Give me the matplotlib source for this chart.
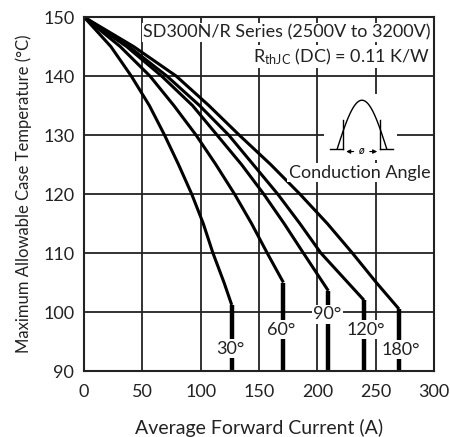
import numpy as np
import matplotlib
matplotlib.use('Agg')
import matplotlib.pyplot as plt
from matplotlib.patches import Rectangle

plt.rcParams['font.family'] = ['Lato', 'DejaVu Sans']
plt.rcParams['mathtext.default'] = 'regular'

## ---------------------------- DATOS LEIDOS ---------------------------- ##
angulos = ['30°', '60°', '90°', '120°', '180°']

# temperatura de caja (°C) para cada punto de la curva
T_30 = [150, 145, 140, 135, 130, 125, 120, 115, 110, 105, 101.2]
I_30 = [0, 23.0, 40.5, 56.0, 69.0, 81.0, 92.3, 102.2, 110.5, 120.0, 126.6]

T_60 = [150, 145, 140, 135, 130, 125, 120, 115, 110, 105]
I_60 = [0, 31.0, 56.5, 77.0, 96.0, 113.0, 129.0, 143.6, 157.0, 170.9]

T_90 = [150, 145, 140, 135, 130, 125, 120, 115, 110, 103.6]
I_90 = [0, 36.5, 66.5, 93.0, 114.0, 135.0, 154.0, 171.5, 188.0, 209.4]

T_120 = [150, 145, 140, 135, 130, 125, 120, 115, 110, 102]
I_120 = [0, 38.5, 71.0, 99.0, 124.0, 145.0, 166.0, 185.0, 203.0, 240.0]

T_180 = [150, 145, 140, 135, 130, 125, 120, 115, 110, 105, 100.5]
I_180 = [0, 42.5, 79.0, 107.0, 133.0, 160.0, 185.0, 208.5, 230.0, 250.5, 270.0]

# posicion de las etiquetas de angulo
etiq_I = [125.6, 169.3, 208.7, 241.3, 271.3]
etiq_T = [93.8, 97.0, 99.6, 97.0, 93.6]

curvas_I = [I_30, I_60, I_90, I_120, I_180]
curvas_T = [T_30, T_60, T_90, T_120, T_180]

## ------------------------------ FIGURA ------------------------------ ##
fig = plt.figure(figsize=(4.5, 4.37), dpi=100)
ax = fig.add_axes([0.1867, 0.151, 0.7778, 0.810])
ax.set_xlim(0, 300)
ax.set_ylim(90, 150)
ax.set_xticks(np.arange(0, 301, 50))
ax.set_yticks(np.arange(90, 151, 10))
ax.set_axisbelow(True)
ax.grid(True, color='#222222', linewidth=1.3)
for s in ax.spines.values():
    s.set_linewidth(1.5)
    s.set_color('#222222')
ax.tick_params(length=0, labelsize=13, colors='#222222')
ax.tick_params(axis='x', pad=9)
ax.tick_params(axis='y', pad=7)

for Ic, Tc in zip(curvas_I, curvas_T):
    ax.plot(Ic, Tc, color='black', linewidth=2.2, zorder=2, solid_capstyle='butt')
    ax.plot([Ic[-1], Ic[-1]], [Tc[-1], 90], color='black', linewidth=3.2, zorder=2,
            solid_capstyle='butt')

for lab, xi, yi in zip(angulos, etiq_I, etiq_T):
    ax.text(xi, yi, lab, fontsize=13, ha='center', va='center', color='#222222', zorder=4,
            bbox=dict(facecolor='white', edgecolor='none', pad=1))

ax.text(297, 147.4, 'SD300N/R Series (2500V to 3200V)', fontsize=13, ha='right', va='center',
        color='#222222', zorder=4, bbox=dict(facecolor='white', edgecolor='none', pad=1))
ax.text(297, 143.3, r'R$_{thJC}$ (DC) = 0.11 K/W', fontsize=13, ha='right', va='center',
        color='#222222', zorder=4, bbox=dict(facecolor='white', edgecolor='none', pad=1))

# dibujo del angulo de conduccion
ax.add_patch(Rectangle((206, 125.8), 62, 11.2, facecolor='white', edgecolor='none', zorder=1))
xs = np.linspace(217.1, 259.4, 60)
ys = 127.7 + 8.2 * np.sin(np.pi * (xs - 217.1) / (259.4 - 217.1))
ax.plot(xs, ys, color='black', linewidth=1.0, zorder=2)
ax.plot([210.9, 222.3], [127.7, 127.7], color='black', linewidth=1.0, zorder=2)
ax.plot([253.7, 265.1], [127.7, 127.7], color='black', linewidth=1.0, zorder=2)
ax.plot([222.3, 222.3], [127.7, 132.6], color='black', linewidth=1.0, zorder=2)
ax.plot([253.7, 253.7], [127.7, 132.6], color='black', linewidth=1.0, zorder=2)
ax.annotate('', xy=(222.3, 127.2), xytext=(233.5, 127.2),
            arrowprops=dict(arrowstyle='-|>', color='black', lw=0.8, mutation_scale=6), zorder=2)
ax.annotate('', xy=(253.7, 127.2), xytext=(242.5, 127.2),
            arrowprops=dict(arrowstyle='-|>', color='black', lw=0.8, mutation_scale=6), zorder=2)
ax.text(238, 127.3, 'ø', fontsize=8, ha='center', va='center', style='italic', zorder=3)

ax.text(297, 123.6, 'Conduction Angle', fontsize=13, ha='right', va='center',
        color='#222222', zorder=4, bbox=dict(facecolor='white', edgecolor='none', pad=1))

ax.set_xlabel('Average Forward Current (A)', fontsize=14, color='#222222', labelpad=14)
ax.set_ylabel('Maximum Allowable Case Temperature (°C)', fontsize=12, color='#222222',
              labelpad=8)

plt.savefig('out.png', dpi=100)
